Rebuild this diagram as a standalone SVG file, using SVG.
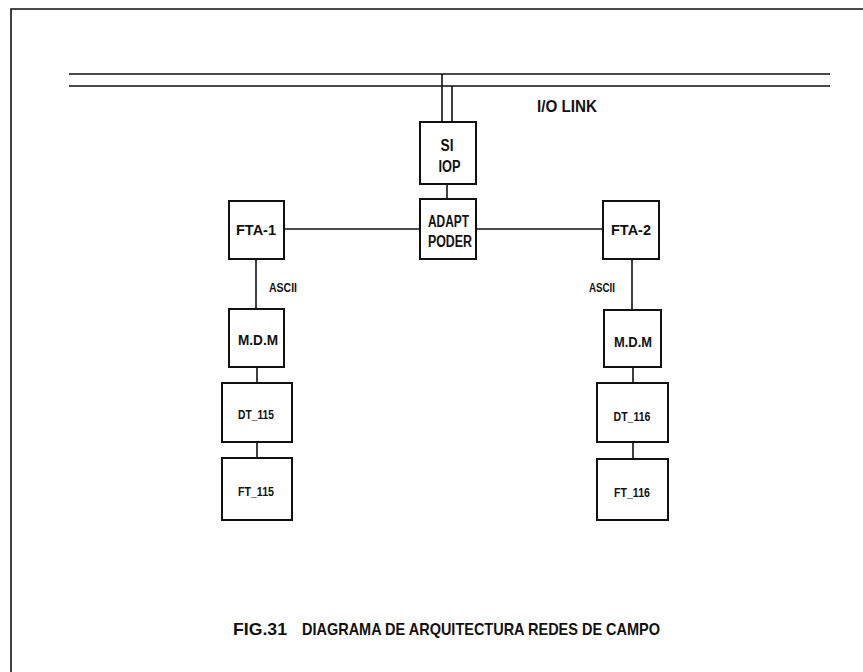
<svg xmlns="http://www.w3.org/2000/svg" width="863" height="672" viewBox="0 0 863 672">
<style>
.box{fill:none;stroke:#111;stroke-width:2}
.ln{stroke:#111;stroke-width:1.6;fill:none}
.t{font-family:"Liberation Sans",Arial,sans-serif;font-weight:bold;fill:#111;text-anchor:middle}
</style>
<rect width="863" height="672" fill="#fff"/>
<g id="frame">
<path class="ln" d="M11 672 V9 H863"/>
</g>
<g id="connectors">
<path class="ln" d="M69 74 H830 M69 86 H830" stroke-width="2"/>
<path class="ln" d="M442 74 V122 M452 86 V122"/>
<path class="ln" d="M447 184 V199"/>
<path class="ln" d="M284 229 H420 M476 229 H603"/>
<path class="ln" d="M256 259 V309 M257 367 V383 M257 442 V458"/>
<path class="ln" d="M632 259 V310 M633 367 V383 M633 442 V459"/>
</g>
<g id="iolink"><text class="t" x="567" y="112" font-size="16" textLength="60" lengthAdjust="spacingAndGlyphs">I/O LINK</text></g>
<g id="si-iop">
<rect class="box" x="420" y="122" width="56" height="62"/>
<text class="t" x="447" y="151" font-size="16" textLength="13" lengthAdjust="spacingAndGlyphs">SI</text>
<text class="t" x="449.5" y="172" font-size="16" textLength="22" lengthAdjust="spacingAndGlyphs">IOP</text>
</g>
<g id="adapt">
<rect class="box" x="420" y="199" width="56" height="60"/>
<text class="t" x="448.5" y="227" font-size="16" textLength="41" lengthAdjust="spacingAndGlyphs">ADAPT</text>
<text class="t" x="450" y="247" font-size="16" textLength="44" lengthAdjust="spacingAndGlyphs">PODER</text>
</g>
<g id="fta1">
<rect class="box" x="229" y="201" width="55" height="58"/>
<text class="t" x="256" y="235" font-size="15" textLength="40" lengthAdjust="spacingAndGlyphs">FTA-1</text>
</g>
<g id="fta2">
<rect class="box" x="603" y="201" width="56" height="58"/>
<text class="t" x="631" y="235" font-size="15" textLength="40" lengthAdjust="spacingAndGlyphs">FTA-2</text>
</g>
<g id="ascii1"><text class="t" x="283" y="292" font-size="12" textLength="28" lengthAdjust="spacingAndGlyphs">ASCII</text></g>
<g id="ascii2"><text class="t" x="602" y="292" font-size="12" textLength="26" lengthAdjust="spacingAndGlyphs">ASCII</text></g>
<g id="mdm1">
<rect class="box" x="229" y="309" width="55" height="58"/>
<text class="t" x="258" y="345" font-size="14" textLength="40" lengthAdjust="spacingAndGlyphs">M.D.M</text>
</g>
<g id="mdm2">
<rect class="box" x="604" y="310" width="57" height="57"/>
<text class="t" x="633" y="347" font-size="14" textLength="38" lengthAdjust="spacingAndGlyphs">M.D.M</text>
</g>
<g id="dt115">
<rect class="box" x="222" y="383" width="70" height="59"/>
<text class="t" x="256" y="419" font-size="12" textLength="36" lengthAdjust="spacingAndGlyphs">DT_115</text>
</g>
<g id="dt116">
<rect class="box" x="597" y="383" width="71" height="59"/>
<text class="t" x="632" y="421" font-size="12" textLength="37" lengthAdjust="spacingAndGlyphs">DT_116</text>
</g>
<g id="ft115">
<rect class="box" x="222" y="458" width="70" height="62"/>
<text class="t" x="256" y="496" font-size="12" textLength="36" lengthAdjust="spacingAndGlyphs">FT_115</text>
</g>
<g id="ft116">
<rect class="box" x="597" y="459" width="71" height="61"/>
<text class="t" x="632" y="497" font-size="12" textLength="36" lengthAdjust="spacingAndGlyphs">FT_116</text>
</g>
<g id="caption">
<text class="t" x="260" y="635" font-size="17" textLength="54" lengthAdjust="spacingAndGlyphs">FIG.31</text>
<text class="t" x="481" y="635" font-size="17" textLength="358" lengthAdjust="spacingAndGlyphs">DIAGRAMA DE ARQUITECTURA REDES DE CAMPO</text>
</g>
</svg>
